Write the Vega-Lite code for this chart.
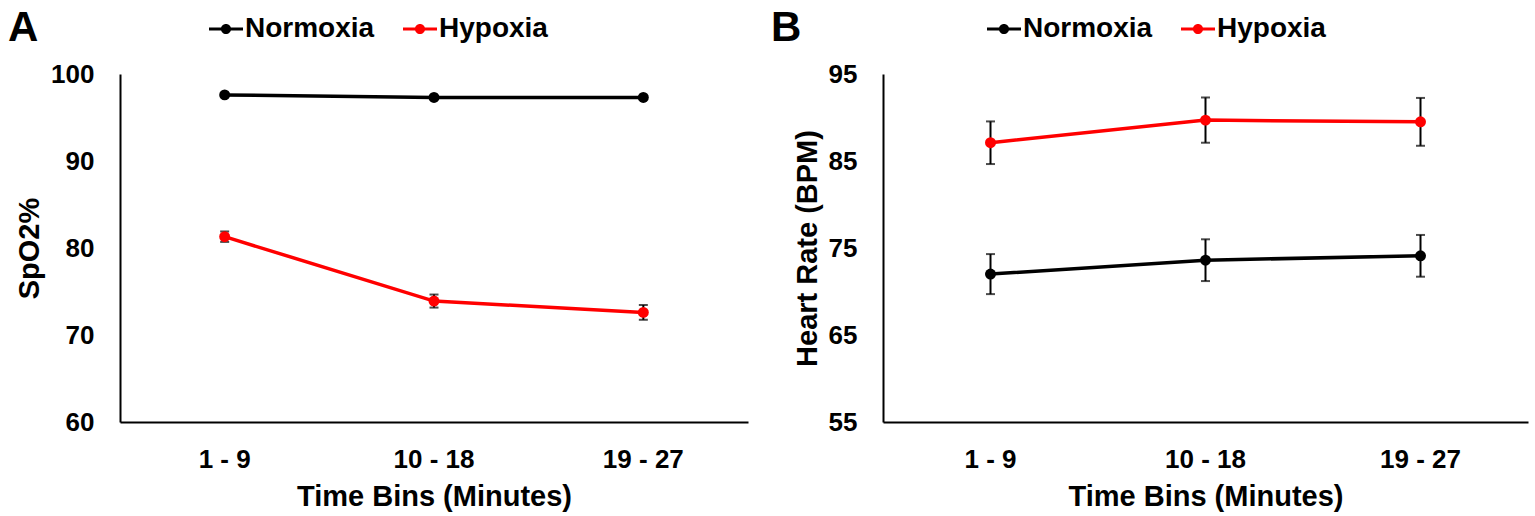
{
  "$schema": "https://vega.github.io/schema/vega-lite/v6.json",
  "padding": {"left": 8, "top": 12, "right": 4, "bottom": 2},
  "background": "white",
  "config": {
    "font": "Liberation Sans",
    "view": {"stroke": null},
    "axis": {
      "labelFont": "Liberation Sans",
      "labelFontWeight": "bold",
      "labelFontSize": 26,
      "labelColor": "black",
      "titleFont": "Liberation Sans",
      "titleFontSize": 29,
      "titleFontWeight": "bold",
      "titleColor": "black",
      "domainColor": "black",
      "domainWidth": 2,
      "ticks": false,
      "grid": false
    },
    "legend": {
      "orient": "none",
      "direction": "horizontal",
      "padding": 0,
      "titleOrient": "left",
      "titleFont": "Liberation Sans",
      "titleFontSize": 42,
      "titleFontWeight": "bold",
      "titleColor": "black",
      "titleBaseline": "middle",
      "labelFont": "Liberation Sans",
      "labelFontSize": 28,
      "labelFontWeight": "bold",
      "labelColor": "black",
      "labelOffset": 2,
      "columnPadding": 28,
      "symbolType": "M-1,-0.09L1,-0.09L1,0.09L-1,0.09Z M0.3,0A0.3,0.3,0,1,1,-0.3,0A0.3,0.3,0,1,1,0.3,0Z",
      "symbolSize": 1156,
      "symbolStrokeWidth": 0,
      "symbolOpacity": 1
    }
  },
  "datasets": {
    "spo2": [
      {"bin": "1 - 9", "group": "Normoxia", "mean": 97.6, "sem": 0.15},
      {"bin": "10 - 18", "group": "Normoxia", "mean": 97.3, "sem": 0.15},
      {"bin": "19 - 27", "group": "Normoxia", "mean": 97.3, "sem": 0.15},
      {"bin": "1 - 9", "group": "Hypoxia", "mean": 81.3, "sem": 0.6},
      {"bin": "10 - 18", "group": "Hypoxia", "mean": 73.9, "sem": 0.75},
      {"bin": "19 - 27", "group": "Hypoxia", "mean": 72.6, "sem": 0.85}
    ],
    "hr": [
      {"bin": "1 - 9", "group": "Normoxia", "mean": 72.0, "sem": 2.3},
      {"bin": "10 - 18", "group": "Normoxia", "mean": 73.6, "sem": 2.4},
      {"bin": "19 - 27", "group": "Normoxia", "mean": 74.1, "sem": 2.4},
      {"bin": "1 - 9", "group": "Hypoxia", "mean": 87.1, "sem": 2.45},
      {"bin": "10 - 18", "group": "Hypoxia", "mean": 89.7, "sem": 2.6},
      {"bin": "19 - 27", "group": "Hypoxia", "mean": 89.5, "sem": 2.75}
    ]
  },
  "spacing": 23,
  "resolve": {
    "scale": {"x": "independent", "y": "independent", "color": "independent"},
    "legend": {"color": "independent"}
  },
  "hconcat": [
    {
      "width": 628,
      "height": 348,
      "data": {"name": "spo2"},
      "encoding": {
        "x": {
          "field": "bin",
          "type": "nominal",
          "sort": ["1 - 9", "10 - 18", "19 - 27"],
          "title": "Time Bins (Minutes)",
          "axis": {"labelAngle": 0, "labelPadding": 24, "titlePadding": 10}
        },
        "y": {
          "field": "mean",
          "type": "quantitative",
          "title": "SpO2%",
          "scale": {"domain": [60, 100], "nice": false},
          "axis": {"values": [60, 70, 80, 90, 100], "labelPadding": 26, "titlePadding": 6}
        },
        "color": {
          "field": "group",
          "type": "nominal",
          "scale": {"domain": ["Normoxia", "Hypoxia"], "range": ["black", "#ff0000"]},
          "legend": {"title": "A", "titlePadding": 170, "legendX": -112, "legendY": -62}
        }
      },
      "layer": [
        {
          "mark": {"type": "errorbar", "color": "black", "size": 9, "thickness": 2, "ticks": true},
          "encoding": {"yError": {"field": "sem"}, "color": {"value": "black"}, "detail": {"field": "group"}}
        },
        {
          "mark": {"type": "line", "strokeWidth": 3.5}
        },
        {
          "mark": {"type": "circle", "size": 120, "opacity": 1}
        }
      ]
    },
    {
      "width": 645,
      "height": 348,
      "data": {"name": "hr"},
      "encoding": {
        "x": {
          "field": "bin",
          "type": "nominal",
          "sort": ["1 - 9", "10 - 18", "19 - 27"],
          "title": "Time Bins (Minutes)",
          "axis": {"labelAngle": 0, "labelPadding": 24, "titlePadding": 10}
        },
        "y": {
          "field": "mean",
          "type": "quantitative",
          "title": "Heart Rate (BPM)",
          "scale": {"domain": [55, 95], "nice": false},
          "axis": {"values": [55, 65, 75, 85, 95], "labelPadding": 26, "titlePadding": 6}
        },
        "color": {
          "field": "group",
          "type": "nominal",
          "scale": {"domain": ["Normoxia", "Hypoxia"], "range": ["black", "#ff0000"]},
          "legend": {"title": "B", "titlePadding": 185, "legendX": -112, "legendY": -62}
        }
      },
      "layer": [
        {
          "mark": {"type": "errorbar", "color": "black", "size": 9, "thickness": 2, "ticks": true},
          "encoding": {"yError": {"field": "sem"}, "color": {"value": "black"}, "detail": {"field": "group"}}
        },
        {
          "mark": {"type": "line", "strokeWidth": 3.5}
        },
        {
          "mark": {"type": "circle", "size": 120, "opacity": 1}
        }
      ]
    }
  ]
}
